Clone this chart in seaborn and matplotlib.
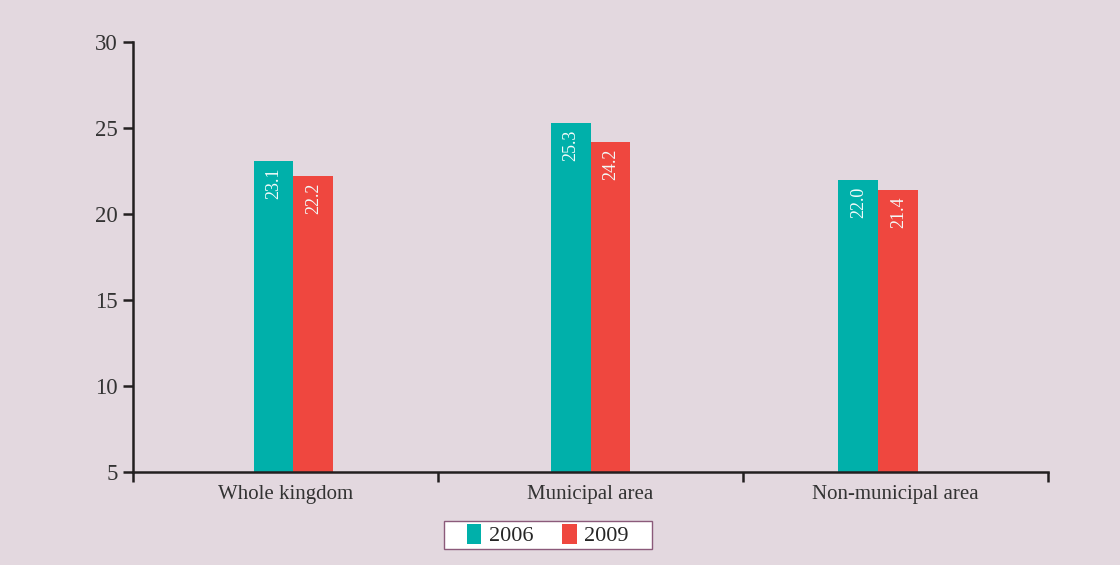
import pandas as pd
import matplotlib.pyplot as plt
import seaborn as sns

areas = ['Whole kingdom', 'Municipal area', 'Non-municipal area']
years = ['2006', '2009']
vals_2006 = [23.1, 25.3, 22.0]
vals_2009 = [22.2, 24.2, 21.4]

df = pd.DataFrame({
    'area': areas * 2,
    'year': [years[0]] * 3 + [years[1]] * 3,
    'value': vals_2006 + vals_2009,
})

bg = '#e3d8df'
ink = '#231f20'
sns.set_style('ticks')
plt.rcParams['font.family'] = ['Liberation Serif', 'DejaVu Serif']

fig = plt.figure(figsize=(11.2, 5.65), dpi=100, facecolor=bg)
ax = fig.add_axes([0.1188, 0.1646, 0.8169, 0.7611], facecolor=bg)

sns.barplot(data=df, x='area', y='value', hue='year', order=areas, hue_order=years,
            palette=['#00b0aa', '#ef473f'], width=0.262, saturation=1, linewidth=0,
            ax=ax, legend=True)

# the original places the bar pairs slightly off the category centres
shift = [0.026, 0.0, -0.056]
for c in ax.containers:
    for i, p in enumerate(c):
        p.set_x(p.get_x() + shift[i])
        ax.annotate(f'{p.get_height():.1f}', (p.get_x() + p.get_width() / 2, p.get_height()),
                    xytext=(0, -5), textcoords='offset points', rotation=90,
                    ha='center', va='top', color='#f3fbfa', fontsize=13)

ax.set_ylim(5, 30)
ax.set_xlim(-0.5, 2.5)
ax.set_yticks([5, 10, 15, 20, 25, 30])
ax.set_xlabel('')
ax.set_ylabel('')
sns.despine(ax=ax)
for s in ['left', 'bottom']:
    ax.spines[s].set_color(ink)
    ax.spines[s].set_linewidth(1.8)

ax.tick_params(axis='y', length=7, width=1.8, color=ink, labelsize=16.5, labelcolor='#333333', pad=4)
ax.tick_params(axis='x', which='major', length=0, labelsize=15, labelcolor='#333333', pad=9)
ax.set_xticks([-0.5, 0.5, 1.5, 2.5], minor=True)
ax.tick_params(axis='x', which='minor', length=7, width=1.8, color=ink, direction='out')

handles, labels = ax.get_legend_handles_labels()
ax.get_legend().remove()
leg = fig.legend(handles, labels, loc='center', bbox_to_anchor=(0.489, 0.053), ncol=2,
                 frameon=True, fancybox=False, edgecolor='#8b5a7a', facecolor='white',
                 framealpha=1, fontsize=16, handlelength=0.65, handleheight=1.05,
                 columnspacing=1.3, handletextpad=0.35, borderpad=0.12, borderaxespad=0)
frame = leg.get_frame()
frame.set_linewidth(1.0)
# wider horizontal padding than vertical, like the original legend box
frame.set_boxstyle('square', pad=0.9)
frame.set_mutation_aspect(0.01)

fig.savefig('out.png', dpi=100, facecolor=bg)
